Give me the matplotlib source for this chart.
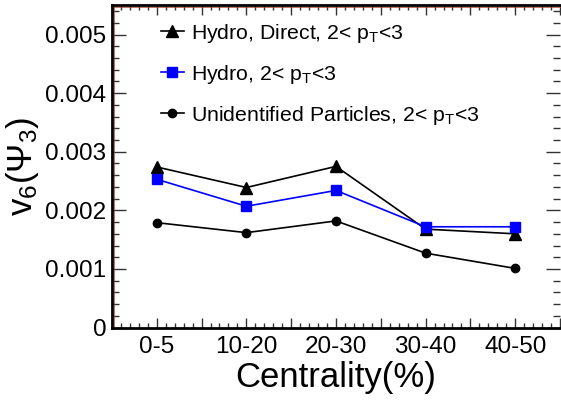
import matplotlib.pyplot as plt
import matplotlib.transforms as mtransforms
from matplotlib.ticker import MultipleLocator

plt.rcParams['font.family'] = ['Liberation Sans', 'DejaVu Sans']
plt.rcParams['mathtext.default'] = 'regular'

centrality = ["0-5", "10-20", "20-30", "30-40", "40-50"]
hydro_direct = [0.00274, 0.00239, 0.00275, 0.00168, 0.00160]
hydro = [0.00253, 0.00207, 0.00234, 0.00172, 0.00172]
unidentified = [0.00179, 0.00162, 0.00182, 0.00127, 0.00101]

x = list(range(len(centrality)))

fig = plt.figure(figsize=(5.61, 4.0), dpi=100)
ax = fig.add_axes([0.1996, 0.181, 0.7986, 0.806])

ax.plot(x, hydro_direct, color="black", marker="^", ms=8, lw=1.2,
        label="Hydro, Direct, 2< p$_T$<3")
ax.plot(x, hydro, color="blue", marker="s", ms=7.5, lw=1.2,
        label="Hydro, 2< p$_T$<3")
ax.plot(x, unidentified, color="black", marker="o", ms=6, lw=1.2,
        label="Unidentified Particles, 2< p$_T$<3")

ax.set_xlim(-0.5, 4.44)
ax.set_ylim(0, 0.0055)

# root style ticks on all four sides
ax.xaxis.set_minor_locator(MultipleLocator(0.1))
ax.yaxis.set_minor_locator(MultipleLocator(0.0002))
ax.set_xticks([i + 0.5 for i in range(-1, 5)] + x)
ax.set_xticklabels([""] * 6 + centrality)
ax.set_yticks([0, 0.001, 0.002, 0.003, 0.004, 0.005])
ax.set_yticklabels(["0", "0.001", "0.002", "0.003", "0.004", "0.005"])

ax.tick_params(axis="both", which="both", direction="in", top=True, right=True,
               colors="#333333", labelcolor="black", labelsize=17.5)
ax.tick_params(axis="y", which="major", length=10, width=1, pad=4)
ax.tick_params(axis="y", which="minor", length=5, width=1)
ax.tick_params(axis="x", which="major", length=7, width=1, pad=6)
ax.tick_params(axis="x", which="minor", length=3.5, width=1)

ax.spines["right"].set_visible(False)
for s in ["left", "bottom", "top"]:
    ax.spines[s].set_linewidth(2)
    ax.spines[s].set_color("black")

# thin red edge inside left and top frame lines
off_l = mtransforms.offset_copy(ax.transAxes, fig=fig, x=1.3, y=0, units="points")
off_t = mtransforms.offset_copy(ax.transAxes, fig=fig, x=0, y=-1.3, units="points")
ax.plot([0, 0], [0, 1], transform=off_l, color="#a33a2a", lw=0.5, clip_on=False)
ax.plot([0, 1], [1, 1], transform=off_t, color="#a33a2a", lw=0.5, clip_on=False)

ax.set_xlabel("Centrality(%)", fontsize=25, labelpad=2)
ax.set_ylabel("v$_6$(Ψ$_3$)", fontsize=25, labelpad=3)

ax.legend(loc="upper left", bbox_to_anchor=(0.09, 0.975), frameon=False,
          fontsize=15.3, handlelength=1.1, handletextpad=0.3, labelspacing=0.85,
          borderaxespad=0)

fig.savefig("out.png", dpi=100)
